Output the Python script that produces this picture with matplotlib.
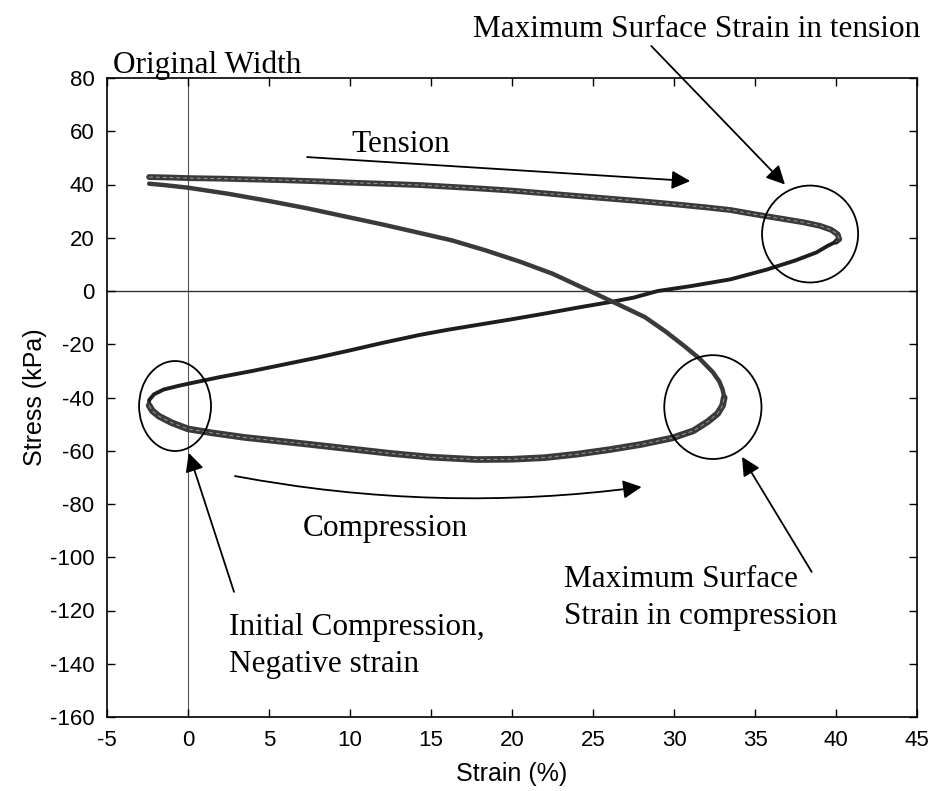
import matplotlib.pyplot as plt
from matplotlib.patches import Ellipse

plt.rcParams['axes.unicode_minus'] = False

# one stress-strain loop, traced in order:
# tension (top), unloading to the left tip, compression (bottom), reloading
tension_strain = [-2.4, -1.0, 0.0, 2.0, 4.0, 6.0, 8.0, 10.0, 12.0, 14.3, 16.0, 18.0, 20.0, 22.0, 24.0, 26.0,
                  28.0, 30.0, 32.0, 33.5, 35.0, 36.5, 38.0, 39.0, 39.7, 40.1, 40.2, 40.0]
tension_stress = [42.8, 42.6, 42.4, 42.2, 41.9, 41.6, 41.2, 40.7, 40.3, 39.8, 39.2, 38.5, 37.7, 36.7, 35.7, 34.7,
                  33.7, 32.6, 31.4, 30.4, 28.8, 27.3, 25.8, 24.5, 23.0, 21.3, 19.5, 18.5]

unload_strain = [40.0, 39.5, 38.8, 37.5, 35.7, 33.5, 31.0, 29.0, 27.5, 26.2, 24.0, 22.0, 20.0, 18.0, 16.0, 14.3,
                 12.0, 10.0, 8.0, 6.0, 4.0, 2.0, 0.5, -0.5, -1.5, -2.1, -2.4, -2.4]
unload_stress = [18.5, 17.0, 14.5, 11.5, 8.0, 4.4, 1.8, 0.0, -2.5, -4.0, -6.3, -8.5, -10.6, -12.6, -14.6, -16.5,
                 -19.5, -22.3, -25.0, -27.5, -30.0, -32.3, -34.2, -35.5, -37.0, -38.8, -41.0, -43.0]

comp_strain = [-2.4, -2.2, -1.8, -1.0, 0.0, 1.5, 3.5, 5.5, 7.5, 10.0, 12.5, 15.0, 17.8, 20.0, 22.0, 24.0,
               26.0, 28.0, 29.9, 31.2, 32.1, 32.7, 33.0, 33.1]
comp_stress = [-43.0, -45.0, -47.0, -49.5, -51.8, -53.3, -55.0, -56.3, -57.6, -59.3, -61.0, -62.4, -63.3, -63.2,
               -62.6, -61.3, -59.6, -57.6, -55.2, -52.5, -49.0, -46.0, -43.0, -40.0]

reload_strain = [33.1, 33.0, 32.8, 32.4, 31.6, 30.6, 29.5, 28.2, 26.2, 24.8, 22.5, 20.5, 18.4, 16.3, 14.3, 12.0,
                 10.0, 7.4, 5.0, 2.5, 0.0, -1.5, -2.4]
reload_stress = [-40.0, -37.0, -34.0, -30.5, -25.5, -20.5, -15.3, -9.8, -4.0, 0.0, 6.5, 11.0, 15.2, 19.0, 21.8, 25.0,
                 27.6, 31.0, 33.8, 36.5, 38.8, 39.8, 40.3]

x_ticks = [-5, 0, 5, 10, 15, 20, 25, 30, 35, 40, 45]
y_ticks = [80, 60, 40, 20, 0, -20, -40, -60, -80, -100, -120, -140, -160]

serif = 'Liberation Serif'
sans = 'Liberation Sans'

fig = plt.figure(figsize=(9.31, 7.91), dpi=100)
ax = fig.add_axes([107 / 931, 1 - 717 / 791, 810 / 931, 639 / 791])

ax.axvline(0, color='#555555', lw=0.8, zorder=1)
ax.axhline(0, color='#333333', lw=1.0, zorder=1)

# overlaid cycles form a thick band on the tension and compression strokes
band = dict(color='#3a3a3a', solid_joinstyle='round', solid_capstyle='round', zorder=3)
ax.plot(tension_strain, tension_stress, lw=4.2, **band)
ax.plot(unload_strain, unload_stress, lw=2.8, color='#1e1e1e', solid_joinstyle='round', zorder=3)
ax.plot(comp_strain, comp_stress, lw=4.8, **band)
ax.plot(reload_strain, reload_stress, lw=3.2, **band)

speckle = dict(color='#9a9a9a', lw=0.7, ls=(0, (4, 3)), zorder=4)
ax.plot(tension_strain, tension_stress, **speckle)
ax.plot(comp_strain, comp_stress, **speckle)

# circles marking the turning points
for (cx, cy, w, h) in [(38.4, 21.4, 5.93, 36.4), (32.4, -43.6, 6.0, 39.0), (-0.8, -43.2, 4.44, 33.8)]:
    ax.add_patch(Ellipse((cx, cy), w, h, fill=False, ec='black', lw=1.3, zorder=5))

arrow = dict(arrowstyle='-|>', color='black', lw=1.3, mutation_scale=28, shrinkA=0, shrinkB=0)

ax.annotate('', xy=(31.0, 41.3), xytext=(7.35, 50.3), arrowprops=arrow)
ax.annotate('', xy=(28.0, -73.6), xytext=(2.9, -69.5),
            arrowprops=dict(arrow, connectionstyle='arc3,rad=0.08'))
ax.annotate('', xy=(36.85, 40.0), xytext=(28.6, 92.0), arrowprops=arrow, annotation_clip=False)
ax.annotate('', xy=(0.05, -60.8), xytext=(2.84, -113.0), arrowprops=arrow)
ax.annotate('', xy=(34.2, -62.3), xytext=(38.5, -105.5), arrowprops=arrow)

txt = dict(family=serif, fontsize=22.5, va='baseline', ha='left', clip_on=False)
ax.text(17.6, 95.4, 'Maximum Surface Strain in tension', **txt)
ax.text(-4.65, 81.9, 'Original Width', **txt)
ax.text(10.1, 52.2, 'Tension', **txt)
ax.text(7.1, -92.0, 'Compression', **txt)
ax.text(23.2, -111.2, 'Maximum Surface', **txt)
ax.text(23.2, -125.1, 'Strain in compression', **txt)
ax.text(2.53, -129.2, 'Initial Compression,', **txt)
ax.text(2.53, -143.1, 'Negative strain', **txt)

ax.set_xlim(-5, 45)
ax.set_ylim(-160, 80)
ax.set_xticks(x_ticks)
ax.set_yticks(y_ticks)
ax.tick_params(direction='in', top=True, right=True, length=6, width=1,
               labelsize=16, pad=9)
for lab in ax.get_xticklabels() + ax.get_yticklabels():
    lab.set_family(sans)
for sp in ax.spines.values():
    sp.set_linewidth(1.2)

ax.set_xlabel('Strain (%)', family=sans, fontsize=18, labelpad=8)
ax.set_ylabel('Stress (kPa)', family=sans, fontsize=18, labelpad=2)

fig.savefig('out.png', dpi=100)
